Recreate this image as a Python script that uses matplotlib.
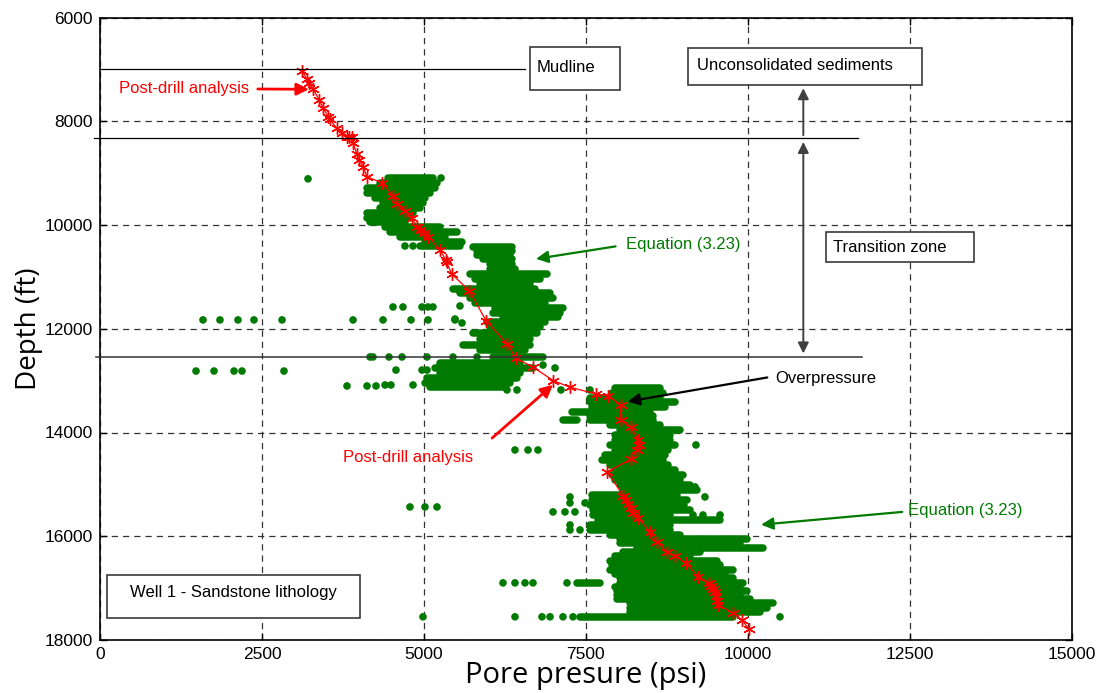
import matplotlib
matplotlib.use("Agg")
import matplotlib.pyplot as plt
from matplotlib.patches import Rectangle

# ---------------- data ----------------
# Post-drill analysis curve (pressure psi, depth ft)
post_p = [3123, 3191, 3231, 3293, 3385, 3447, 3524, 3550, 3654, 3731, 3808, 3850, 3886, 3910,
          3963, 4003, 4065, 4117, 4349, 4528, 4589, 4708, 4812, 4898, 4940, 5002, 5068,
          5249, 5337, 5352, 5429, 5701, 5959, 6287, 6422, 6689, 6998, 7255, 7656, 7847,
          8038, 8038, 8192, 8310, 8325, 8285, 8197, 7831, 8078, 8120, 8155, 8192, 8233,
          8310, 8490, 8594, 8748, 8876, 9046, 9236, 9406, 9430, 9460, 9494, 9510, 9530,
          9545, 9777, 9906, 10019]
post_d = [7031, 7185, 7268, 7384, 7590, 7750, 7912, 7962, 8136, 8232, 8298, 8300, 8309, 8425,
          8631, 8747, 8876, 9069, 9184, 9441, 9595, 9724, 9870, 10032, 10096, 10160, 10225,
          10481, 10674, 10719, 10944, 11266, 11844, 12293, 12569, 12742, 13000, 13127, 13257, 13295,
          13469, 13758, 13899, 14144, 14240, 14337, 14516, 14755, 15224, 15300, 15378, 15460, 15557,
          15653, 15911, 16103, 16296, 16379, 16520, 16778, 16905, 16960, 17010, 17067, 17150, 17240,
          17323, 17482, 17611, 17790]

# Equation (3.23) - dense rows of points: depth (ft), min / max pressure (psi)
row_d = [9094, 9190, 9286, 9383, 9479, 9576, 9672, 9768, 9865, 9942, 10040, 10135, 10231, 10328, 10405,
         10424, 10501, 10578, 10655, 10751, 10848, 10944, 11040, 11137, 11233, 11310, 11406, 11503,
         11599, 11695, 11773, 11869, 11966, 12081, 12197, 12312, 12409, 12544, 12660, 12756, 12853,
         12949, 13046, 13123,
         13142, 13238, 13335, 13412, 13508, 13605, 13682, 13758, 13758, 13855, 13951, 14048, 14144,
         14240, 14337, 14433, 14529, 14625, 14722, 14818, 14914, 15010, 15107, 15203, 15300, 15396,
         15492, 15590, 15686, 15782, 15879, 15975, 16052, 16129, 16225, 16302, 16379, 16476, 16553,
         16649, 16726, 16803, 16899, 16899, 16976, 17053, 17130, 17207, 17284, 17380, 17457, 17553]
row_lo = [4446, 4322, 4122, 4122, 4245, 4369, 4322, 4122, 4122, 4168, 4400, 4477, 4631, 5017, 4940,
          5758, 5820, 5820, 5912, 6020, 6020, 5712, 5789, 5866, 5449, 5557, 5712, 5789,
          6098, 6067, 6221, 5974, 6020, 5758, 5866, 5604, 5866, 6067, 5249, 5171, 5249,
          5048, 5017, 5094,
          7950, 7904, 7564, 7564, 7595, 7286, 7564, 7147, 7564, 7873, 8027, 7950, 7950,
          7873, 7950, 7796, 7749, 7873, 7950, 7904, 7950, 8027, 8073, 7595, 7595, 7564,
          7610, 7610, 7688, 7564, 7564, 7873, 8027, 8027, 8290, 8073, 7950, 7873, 7904,
          7873, 7950, 8027, 8027, 7363, 7950, 7981, 7981, 7981, 8182, 8182, 8182, 7410]
row_hi = [5140, 5202, 5171, 5094, 5017, 4986, 4940, 4832, 4785, 4708, 5249, 5511, 5326, 5588, 5557,
          6360, 6360, 6329, 6360, 6360, 6406, 6900, 6792, 6638, 6715, 6947, 6993, 6869,
          7147, 7101, 7070, 6869, 6792, 6746, 6638, 6638, 6561, 6838, 6484, 6684, 6484,
          6437, 6329, 6252,
          8645, 8691, 8645, 8876, 8722, 8490, 8537, 7363, 8537, 8645, 8953, 8799, 8799,
          8876, 8768, 8722, 8691, 8768, 8876, 9000, 8953, 9108, 9216, 8907, 9062, 9016,
          9108, 8799, 9571, 8799, 8799, 8953, 9988, 9880, 10235, 9262, 9108, 9525, 9571,
          9772, 9648, 9772, 9926, 7719, 9880, 9988, 9880, 10034, 10389, 10296, 10188, 9772]

# Equation (3.23) - scattered single points
dot_p = [3211, 5264, 4708, 4832,
         5557, 5480, 5588, 4523, 4677, 4971, 5063, 5140, 4369, 4801, 5063, 5480,
         1590, 1852, 2130, 2377, 2810, 3906,
         4168, 4214, 4461, 4662, 5048, 5449, 5820,
         1482, 1760, 2069, 2192, 2840, 4569, 4971, 5048, 6838, 7024,
         3813, 4122, 4261, 4400, 4492, 4832, 6283, 6437, 7116, 7564,
         9200, 9339, 9185, 7255, 7255, 7487, 6406, 6607, 6761, 6993, 7178, 7332,
         4785, 5017, 5202, 9154, 9308, 9571, 7255, 7255, 7410,
         6221, 6406, 6561, 6684, 7209, 7147, 7302, 10497, 6406, 6823, 6947, 4986]
dot_d = [9110, 9094, 10405, 10405,
         11561, 11812, 11889, 11580, 11580, 11580, 11580, 11580, 11830, 11830, 11830, 11830,
         11830, 11830, 11830, 11830, 11830, 11830,
         12544, 12544, 12544, 12544, 12544, 12544, 12544,
         12815, 12815, 12815, 12815, 12815, 12796, 12796, 12796, 12700, 12756,
         13103, 13103, 13103, 13084, 13084, 13084, 13180, 13180, 13180, 13180,
         14240, 15242, 15049, 15242, 15358, 15358, 14337, 14337, 14337, 15531, 15531, 15531,
         15435, 15435, 15435, 15590, 15590, 15590, 15782, 15879, 15879,
         16899, 16899, 16899, 16899, 16899, 17553, 17553, 17553, 17553, 17553, 17553, 17553]

x_ticks = [0, 2500, 5000, 7500, 10000, 12500, 15000]
y_ticks = [6000, 8000, 10000, 12000, 14000, 16000, 18000]

# ---------------- figure ----------------
GREEN = "#007a00"
ARIAL = ["Liberation Sans", "DejaVu Sans"]
CAL = ["Open Sans", "DejaVu Sans"]

fig = plt.figure(figsize=(11.02, 6.93), dpi=100)
ax = fig.add_axes([100 / 1102, 1 - 640 / 693, (1071.7 - 100) / 1102, (640 - 17.5) / 693])
ax.set_xlim(0, 15000)
ax.set_ylim(18000, 6000)
ax.set_xticks(x_ticks)
ax.set_yticks(y_ticks)
ax.set_xticklabels([str(t) for t in x_ticks], fontfamily=ARIAL, fontsize=12.5)
ax.set_yticklabels([str(t) for t in y_ticks], fontfamily=ARIAL, fontsize=12.5)
ax.tick_params(direction="in", top=True, right=True, length=5, width=1, pad=5)
for s in ax.spines.values():
    s.set_linewidth(1.2)
ax.grid(True, color="#333333", linestyle=(0, (5, 4)), linewidth=0.9)
ax.set_axisbelow(True)

ax.set_xlabel("Pore presure (psi)", fontfamily=CAL, fontsize=21, labelpad=-1)
ax.set_ylabel("Depth (ft)", fontfamily=CAL, fontsize=20, labelpad=1)

# green data
lc = ax.hlines(row_d, row_lo, row_hi, colors=GREEN, linewidth=5.4, zorder=3)
lc.set_capstyle("round")
ax.scatter(dot_p, dot_d, s=30, color=GREEN, edgecolors="none", zorder=3)

# red curve
ax.plot(post_p, post_d, color="red", linewidth=0.9, marker=(6, 2, 0), markersize=9,
        markeredgewidth=1.0, zorder=4)

# horizontal lines
ax.plot([0, 6561], [7000, 7000], color="black", lw=0.9, zorder=5)
ax.plot([-100, 11701], [8323, 8323], color="black", lw=0.9, zorder=5, clip_on=False)
ax.plot([-60, 11763], [12544, 12544], color="#333333", lw=1.1, zorder=5, clip_on=False)

# boxes
def box(x0, x1, y0, y1):
    ax.add_patch(Rectangle((x0, y0), x1 - x0, y1 - y0, facecolor="white",
                           edgecolor="#3a3a3a", linewidth=1.2, zorder=6, clip_on=False))

box(6638, 8027, 6569, 7397)
ax.text(6746, 6973, "Mudline", fontfamily=ARIAL, fontsize=12, va="center", ha="left", zorder=7)
box(9077, 12689, 6588, 7301)
ax.text(9216, 6930, "Unconsolidated sediments", fontfamily=ARIAL, fontsize=12, va="center",
        ha="left", zorder=7)
box(11207, 13492, 10134, 10713)
ax.text(11315, 10443, "Transition zone", fontfamily=ARIAL, fontsize=12, va="center", ha="left",
        zorder=7)
box(108, 4014, 16746, 17575)
ax.text(2061, 17090, "Well 1 - Sandstone lithology", fontfamily=ARIAL, fontsize=12,
        va="center", ha="center", zorder=7)

# vertical zone arrows
ax.annotate("", xy=(10857, 7310), xytext=(10857, 8323),
            arrowprops=dict(arrowstyle="-|>", color="#404040", lw=1.4, mutation_scale=16),
            zorder=6)
ax.annotate("", xy=(10857, 8345), xytext=(10857, 12530),
            arrowprops=dict(arrowstyle="<|-|>", color="#404040", lw=1.4, mutation_scale=16),
            zorder=6)

# annotations with arrows
def note(text, color, tx, ty, hx, hy, ax_x, ax_y, lw=1.6):
    ax.annotate("", xy=(hx, hy), xytext=(ax_x, ax_y),
                arrowprops=dict(arrowstyle="-|>", color=color, lw=lw, mutation_scale=18),
                zorder=8)
    ax.text(tx, ty, text, color=color, fontfamily=ARIAL, fontsize=12, va="center",
            ha="left", zorder=8)

note("Post-drill analysis", "red", 293, 7370, 3268, 7384, 2393, 7378, lw=2.0)
note("Post-drill analysis", "red", 3751, 14491, 7024, 13045, 6020, 14143, lw=2.0)
note("Overpressure", "black", 10420, 12950, 8104, 13412, 10343, 12930)
note("Equation (3.23)", GREEN, 8120, 10385, 6689, 10661, 8001, 10404)
note("Equation (3.23)", GREEN, 12473, 15513, 10162, 15782, 12427, 15526)

fig.savefig("out.png", dpi=100)
